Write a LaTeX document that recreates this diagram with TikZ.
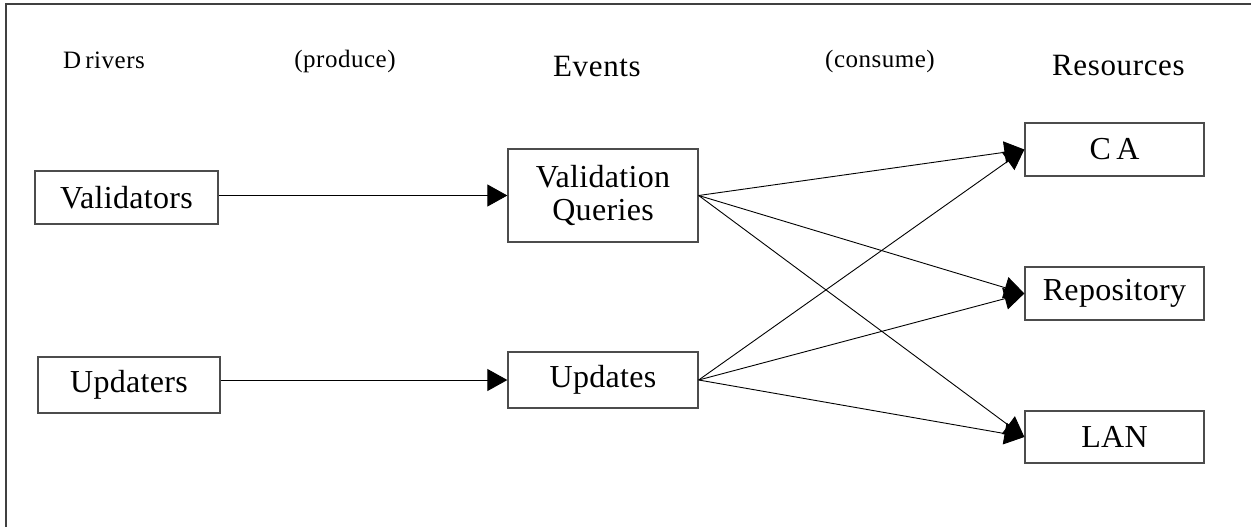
\documentclass[tikz,border=0pt]{standalone}
\usepackage{fontspec}
\setmainfont{Liberation Serif}
\usetikzlibrary{arrows.meta}

\tikzset{
  box/.style={draw=black!70, line width=1.3pt, rectangle, inner sep=0pt,
              align=center, font=\fontsize{32}{33}\selectfont\addfontfeature{LetterSpace=1}},
  head/.style={inner sep=0pt, font=\fontsize{31}{34}\selectfont\addfontfeature{LetterSpace=2}},
  note/.style={inner sep=0pt, font=\fontsize{25}{30}\selectfont\addfontfeature{LetterSpace=2}},
  flow/.style={draw=black, line width=0.9pt,
               -{Triangle[length=20pt,width=22pt]}},
}

\begin{document}
\begin{tikzpicture}[x=1pt, y=-1pt]
  \useasboundingbox (0,0) rectangle (1251,527);

  % outer frame (only its top and left sides fall inside the page)
  \draw[black!75, line width=1.3pt] (6,560) -- (6,4) -- (1280,4);

  % column headings
  \node[note, anchor=base west] (hdrivers) at (63,69) {D\,rivers};
  \node[note, anchor=base] (hproduce) at (345,68) {(produce)};
  \node[head, anchor=base west] (hevents) at (553,77) {Events};
  \node[note, anchor=base] (hconsume) at (880,68) {(consume)};
  \node[head, anchor=base west] (hres) at (1052,76) {Resources};

  % drivers
  \node[box, minimum width=183pt, minimum height=53pt] (val) at (126.5,197.5) {Validators};
  \node[box, minimum width=182pt, minimum height=56pt] (upd) at (129,385) {Updaters};

  % events
  \node[box, minimum width=190pt, minimum height=93pt] (vq) at (603,195.5) {Validation\\Queries};
  \node[box, minimum width=190pt, minimum height=56pt] (ups) at (603,380) {Updates};

  % resources
  \node[box, minimum width=179pt, minimum height=53pt] (ca) at (1114.5,149.5) {C\,A};
  \node[box, minimum width=179pt, minimum height=53pt] (rep) at (1114.5,293.5) {Repository};
  \node[box, minimum width=179pt, minimum height=52pt] (lan) at (1114.5,437) {LAN};

  % produce
  \draw[flow] (vq.west -| val.east) -- (vq.west);
  \draw[flow] (ups.west -| upd.east) -- (ups.west);

  % consume
  \draw[flow] (vq.east) -- (ca.west);
  \draw[flow] (vq.east) -- (rep.west);
  \draw[flow] (vq.east) -- (lan.west);
  \draw[flow] (ups.east) -- (ca.west);
  \draw[flow] (ups.east) -- (rep.west);
  \draw[flow] (ups.east) -- (lan.west);
\end{tikzpicture}
\end{document}
